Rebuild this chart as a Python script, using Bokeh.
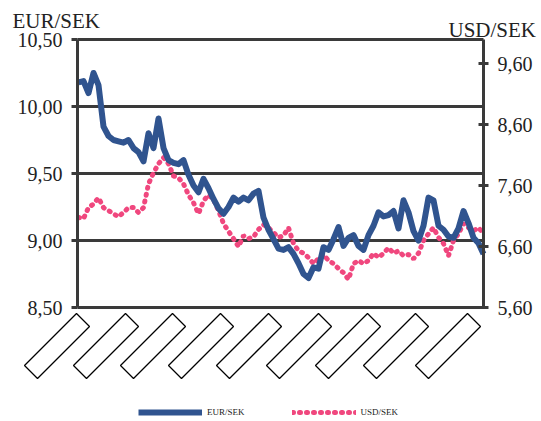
from bokeh.plotting import figure
from bokeh.models import (Range1d, LinearAxis, FixedTicker, Label, PolyAnnotation,
                          Legend, LegendItem, CustomJSTickFormatter, Grid)
from bokeh.embed import file_html
from bokeh.resources import INLINE

# ---------------- data ----------------
eur_sek = [10.18, 10.19, 10.10, 10.25, 10.16, 9.85, 9.78, 9.75, 9.74, 9.73,
           9.75, 9.69, 9.66, 9.59, 9.80, 9.69, 9.91, 9.69, 9.60, 9.58,
           9.57, 9.60, 9.49, 9.41, 9.36, 9.46, 9.39, 9.31, 9.24, 9.20,
           9.25, 9.32, 9.29, 9.32, 9.30, 9.35, 9.37, 9.17, 9.08, 9.01,
           8.94, 8.93, 8.95, 8.90, 8.83, 8.75, 8.72, 8.80, 8.79, 8.95,
           8.93, 9.01, 9.10, 8.96, 9.02, 9.04, 8.96, 8.93, 9.04, 9.11,
           9.21, 9.18, 9.19, 9.22, 9.09, 9.30, 9.21, 9.07, 9.00, 9.11,
           9.32, 9.30, 9.11, 9.08, 9.03, 9.02, 9.09, 9.22, 9.13, 9.02,
           8.98, 8.90]
usd_sek = [7.08, 7.06, 7.24, 7.30, 7.40, 7.24, 7.19, 7.14, 7.09, 7.16,
           7.24, 7.24, 7.16, 7.24, 7.63, 7.81, 7.96, 8.06, 7.96, 7.76,
           7.73, 7.63, 7.45, 7.32, 7.14, 7.35, 7.45, 7.37, 7.19, 6.98,
           6.85, 6.73, 6.60, 6.78, 6.73, 6.76, 6.88, 6.96, 6.91, 6.83,
           6.75, 6.78, 6.91, 6.65, 6.53, 6.49, 6.42, 6.32, 6.40, 6.47,
           6.37, 6.32, 6.24, 6.17, 6.06, 6.32, 6.37, 6.32, 6.37, 6.49,
           6.42, 6.49, 6.58, 6.49, 6.53, 6.45, 6.47, 6.40, 6.49, 6.70,
           6.81, 6.91, 6.75, 6.65, 6.45, 6.70, 6.81, 6.98, 6.91, 6.86,
           6.91, 6.81]
period = list(range(len(eur_sek)))
eur_ticks = [8.5, 9.0, 9.5, 10.0, 10.5]
usd_ticks = [5.6, 6.6, 7.6, 8.6, 9.6]
date_label_pos = [-0.4, 9.4, 18.8, 28.4, 38.0, 48.0, 57.8, 67.4, 77.8]  # masked date labels

# ---------------- layout (pixels) ----------------
W, H = 541, 421
FL, FR, FT, FB = 77, 483, 39, 307          # plotting area edges
x0, x1 = -0.2, 81.0                         # period range across the plotting area
ey0, ey1 = 8.5, 10.5                        # EUR/SEK range
uy0, uy1 = 5.6, 10.0                        # USD/SEK range
ux = (x1 - x0) / (FR - FL)
uy = (ey1 - ey0) / (FB - FT)
uu = (uy1 - uy0) / (FB - FT)

def xd(px): return x0 + (px - FL) * ux
def yd(py): return ey0 + (FB - py) * uy
def ud(py): return uy0 + (FB - py) * uu

SERIF = "Liberation Serif"
DARK = "#3a3a3a"
TXT = "#222222"
BLUE = "#30548f"
PINK = "#f0477e"

p = figure(width=W, height=H, x_range=Range1d(xd(0), xd(W)), y_range=Range1d(yd(H), yd(0)),
           output_backend="svg", toolbar_location=None, x_axis_location=None,
           y_axis_location=None, min_border=0,
           background_fill_color="white", border_fill_color="white")
p.extra_y_ranges = {"usd": Range1d(ud(H), ud(0))}
p.outline_line_color = None
p.xgrid.visible = False
p.ygrid.visible = False

fmt = CustomJSTickFormatter(code="return tick.toFixed(2).replace('.', ',');")

# horizontal grid lines limited to the plotting area
if "cross_bounds" in Grid.properties():
    grid = Grid(dimension=1, ticker=FixedTicker(ticks=eur_ticks), bounds=(ey0, ey1),
                cross_bounds=(x0, x1), grid_line_color=DARK, grid_line_width=3)
    p.add_layout(grid)
else:
    p.segment(x0=[x0] * len(eur_ticks), x1=[x1] * len(eur_ticks), y0=eur_ticks,
              y1=eur_ticks, line_color=DARK, line_width=3, level="underlay")

lax = LinearAxis(ticker=FixedTicker(ticks=eur_ticks), formatter=fmt,
                 fixed_location=x0, bounds=(ey0, ey1))
rax = LinearAxis(y_range_name="usd", ticker=FixedTicker(ticks=usd_ticks), formatter=fmt,
                 fixed_location=x1, bounds=(uy0, uy1))
for a, tin, tout in ((lax, 0, 6), (rax, 5, 5)):
    a.axis_line_color = DARK
    a.axis_line_width = 3
    a.major_tick_in = tin
    a.major_tick_out = tout
    a.major_tick_line_color = DARK
    a.major_tick_line_width = 3
    a.minor_tick_line_color = None
    a.major_label_standoff = 9
    a.major_label_text_font = SERIF
    a.major_label_text_font_size = "20px"
    a.major_label_text_color = TXT
p.add_layout(lax, "left")
p.add_layout(rax, "right")

r_usd = p.line(period, usd_sek, y_range_name="usd", line_color=PINK, line_width=5,
               line_dash="1 6", line_cap="round")
r_eur = p.line(period, eur_sek, line_color=BLUE, line_width=6, line_join="round")

# axis titles
p.add_layout(Label(x=xd(12), y=yd(20), text="EUR/SEK", text_font=SERIF,
                   text_font_size="21px", text_color=TXT, text_baseline="alphabetic"))
p.add_layout(Label(x=xd(448), y=yd(29), text="USD/SEK", text_font=SERIF,
                   text_font_size="21px", text_color=TXT, text_baseline="alphabetic"))

# masked date labels (empty rotated boxes below the axis)
box_shape = [(0, 0), (13, 13), (-39, 65), (-52, 52)]
for t in date_label_pos:
    xs = [t + dx * ux for dx, dy in box_shape]
    ys = [yd(FB + 6 + dy) for dx, dy in box_shape]
    p.add_layout(PolyAnnotation(xs=xs, ys=ys, fill_alpha=0, line_color="black",
                                line_alpha=1.0, line_width=1.3))

legend = Legend(items=[LegendItem(label="EUR/SEK", renderers=[r_eur]),
                       LegendItem(label="USD/SEK", renderers=[r_usd])],
                orientation="horizontal", location=(138, 4),
                glyph_width=64, glyph_height=8, label_standoff=5, spacing=47,
                padding=0, margin=0, border_line_color=None, background_fill_alpha=0,
                label_text_font=SERIF, label_text_font_size="9px", label_text_color=TXT)
p.add_layout(legend)

open("out.html", "w").write(file_html(p, INLINE))
